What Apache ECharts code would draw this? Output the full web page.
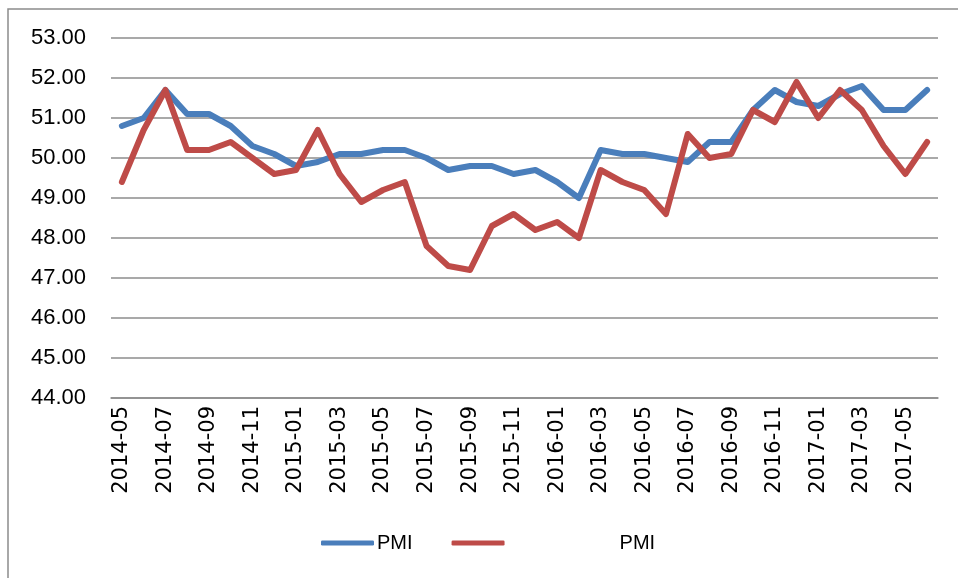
<!DOCTYPE html>
<html>
<head>
<meta charset="utf-8">
<script src="https://cdn.jsdelivr.net/npm/echarts@6/dist/echarts.min.js"></script>
<style>
html, body { margin: 0; padding: 0; background: #fff; }
#chart { width: 958px; height: 578px; }
</style>
</head>
<body>
<div id="chart"></div>
<script>
var months = [
    '2014-05', '2014-06', '2014-07', '2014-08', '2014-09', '2014-10', '2014-11', '2014-12',
    '2015-01', '2015-02', '2015-03', '2015-04', '2015-05', '2015-06', '2015-07', '2015-08',
    '2015-09', '2015-10', '2015-11', '2015-12', '2016-01', '2016-02', '2016-03', '2016-04',
    '2016-05', '2016-06', '2016-07', '2016-08', '2016-09', '2016-10', '2016-11', '2016-12',
    '2017-01', '2017-02', '2017-03', '2017-04', '2017-05', '2017-06'
];
// blue line
var pmiBlue = [
    50.8, 51.0, 51.7, 51.1, 51.1, 50.8, 50.3, 50.1,
    49.8, 49.9, 50.1, 50.1, 50.2, 50.2, 50.0, 49.7,
    49.8, 49.8, 49.6, 49.7, 49.4, 49.0, 50.2, 50.1,
    50.1, 50.0, 49.9, 50.4, 50.4, 51.2, 51.7, 51.4,
    51.3, 51.6, 51.8, 51.2, 51.2, 51.7
];
// red line
var pmiRed = [
    49.4, 50.7, 51.7, 50.2, 50.2, 50.4, 50.0, 49.6,
    49.7, 50.7, 49.6, 48.9, 49.2, 49.4, 47.8, 47.3,
    47.2, 48.3, 48.6, 48.2, 48.4, 48.0, 49.7, 49.4,
    49.2, 48.6, 50.6, 50.0, 50.1, 51.2, 50.9, 51.9,
    51.0, 51.7, 51.2, 50.3, 49.6, 50.4
];
var seriesNames = ['PMI', 'PMI '];

var myChart = echarts.init(document.getElementById('chart'));
var option = {
    animation: false,
    textStyle: { fontFamily: 'Liberation Sans' },
    graphic: [{
        type: 'rect',
        shape: { x: 8, y: 9, width: 1200, height: 1200 },
        style: { fill: 'none', stroke: '#8c8c8c', lineWidth: 1.5 },
        silent: true
    }],
    grid: {
        left: 111,
        right: 20,
        top: 38,
        bottom: 180
    },
    legend: {
        bottom: 20,
        left: 316,
        itemWidth: 53,
        itemHeight: 5,
        itemGap: 39,
        icon: 'roundRect',
        data: seriesNames,
        formatter: function (name) {
            return name === seriesNames[1] ? '{pad|PMI}' : 'PMI';
        },
        textStyle: {
            fontSize: 20,
            color: '#000',
            padding: [0, 0, 0, -2],
            rich: {
                pad: { fontSize: 20, color: '#000', padding: [0, 0, 0, 112] }
            }
        }
    },
    xAxis: {
        type: 'category',
        data: months,
        boundaryGap: true,
        axisLine: { lineStyle: { color: '#8c8c8c', width: 1.5 } },
        axisTick: { show: false },
        axisLabel: {
            interval: 1,
            rotate: 90,
            fontFamily: 'DejaVu Sans',
            fontSize: 21,
            color: '#000',
            margin: 8
        }
    },
    yAxis: {
        type: 'value',
        min: 44,
        max: 53,
        interval: 1,
        axisLine: { show: false },
        axisTick: { show: false },
        axisLabel: {
            fontSize: 22,
            color: '#000',
            margin: 25,
            formatter: function (v) { return v.toFixed(2); }
        },
        splitLine: { lineStyle: { color: '#8c8c8c', width: 1.5 } }
    },
    series: [
        {
            name: seriesNames[0],
            type: 'line',
            data: pmiBlue,
            showSymbol: false,
            symbol: 'none',
            itemStyle: { color: '#4a7ebb' },
            lineStyle: { color: '#4a7ebb', width: 6, cap: 'round', join: 'round' }
        },
        {
            name: seriesNames[1],
            type: 'line',
            data: pmiRed,
            showSymbol: false,
            symbol: 'none',
            itemStyle: { color: '#be4b48' },
            lineStyle: { color: '#be4b48', width: 6, cap: 'round', join: 'round' }
        }
    ]
};
myChart.setOption(option);
</script>
</body>
</html>
